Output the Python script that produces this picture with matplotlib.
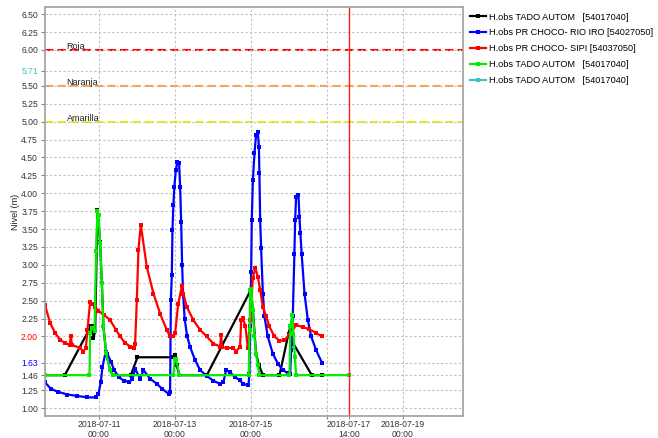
import pandas as pd
import matplotlib.pyplot as plt
import matplotlib.transforms as mtransforms

plt.rcParams["font.family"] = ["Liberation Sans", "DejaVu Sans"]

# series (times in 2018)
black_t = ["07-09 14:00", "07-10 02:30", "07-10 18:54", "07-10 20:00", "07-10 20:36", "07-10 21:42",
           "07-10 23:06", "07-11 00:48", "07-11 01:54", "07-11 02:54", "07-11 04:36", "07-11 07:06",
           "07-11 08:48", "07-11 20:12", "07-12 00:24", "07-12 23:06", "07-13 00:12", "07-13 01:06",
           "07-13 02:54", "07-13 20:12", "07-15 00:00", "07-15 01:18", "07-15 03:18", "07-15 05:06",
           "07-15 07:36", "07-15 18:06", "07-15 23:48", "07-16 01:00", "07-16 02:54", "07-16 14:30",
           "07-16 21:00"]
black_v = [1.46, 1.46, 2.14, 2.14, 1.98, 2.08, 3.76, 3.32, 2.75, 2.14, 1.77, 1.53, 1.46, 1.46, 1.71,
           1.71, 1.74, 1.60, 1.46, 1.46, 2.65, 2.37, 1.76, 1.60, 1.46, 1.46, 2.04, 2.14, 1.90, 1.46, 1.46]

blue_t = ["07-09 14:00", "07-09 17:42", "07-09 21:54", "07-10 04:12", "07-10 10:30", "07-10 16:48",
          "07-10 22:06", "07-10 23:45", "07-11 01:18", "07-11 02:18", "07-11 04:24", "07-11 05:24",
          "07-11 07:36", "07-11 09:42", "07-11 12:48", "07-11 16:00", "07-11 19:06", "07-11 21:12",
          "07-11 22:54", "07-12 02:06", "07-12 04:12", "07-12 08:24", "07-12 12:36", "07-12 16:00",
          "07-12 20:00", "07-12 21:00", "07-12 21:30", "07-12 22:06", "07-12 22:30", "07-12 23:06",
          "07-12 23:42", "07-13 00:36", "07-13 01:36", "07-13 02:42", "07-13 03:21", "07-13 04:00",
          "07-13 04:36", "07-13 05:12", "07-13 06:12", "07-13 07:48", "07-13 09:42", "07-13 12:48",
          "07-13 16:00", "07-13 20:12", "07-14 00:24", "07-14 04:36", "07-14 06:42", "07-14 08:24",
          "07-14 10:54", "07-14 14:06", "07-14 17:12", "07-14 18:54", "07-14 22:30", "07-14 23:06",
          "07-14 23:36", "07-15 00:12", "07-15 00:36", "07-15 01:18", "07-15 02:18", "07-15 03:18",
          "07-15 04:24", "07-15 05:06", "07-15 05:24", "07-15 05:54", "07-15 06:30", "07-15 07:36",
          "07-15 08:36", "07-15 10:42", "07-15 13:54", "07-15 17:06", "07-15 20:12", "07-15 23:24",
          "07-16 00:48", "07-16 01:30", "07-16 02:30", "07-16 03:30", "07-16 04:00", "07-16 04:36",
          "07-16 06:06", "07-16 06:42", "07-16 07:18", "07-16 08:06", "07-16 09:54", "07-16 12:00",
          "07-16 14:06", "07-16 17:12", "07-16 21:00"]
blue_v = [1.36, 1.27, 1.23, 1.19, 1.17, 1.15, 1.15, 1.20, 1.37, 1.58,
          1.79, 1.76, 1.65, 1.53, 1.43, 1.38, 1.37, 1.40, 1.55, 1.41,
          1.53, 1.41, 1.34, 1.27, 1.20, 1.22, 2.51, 2.86, 3.49, 3.84,
          4.09, 4.32, 4.43, 4.42, 4.09, 3.60, 3.00, 2.60, 2.25, 2.00,
          1.85, 1.67, 1.53, 1.45, 1.38, 1.34, 1.37, 1.53, 1.50, 1.43,
          1.39, 1.34, 1.32, 1.48, 2.14, 2.90, 3.63, 4.18, 4.56, 4.81,
          4.86, 4.65, 4.28, 3.63, 3.23, 2.60, 2.28, 2.00, 1.76, 1.62,
          1.53, 1.49, 1.47, 1.81, 2.28, 3.15, 3.63, 3.95, 3.97, 3.67,
          3.44, 3.15, 2.60, 2.23, 2.00, 1.81, 1.63]

red_t = ["07-09 14:00", "07-09 17:12", "07-09 20:24", "07-09 23:36", "07-10 02:42", "07-10 05:36",
         "07-10 06:18", "07-10 07:06", "07-10 12:12", "07-10 14:06", "07-10 15:48", "07-10 16:48",
         "07-10 18:30", "07-10 19:30", "07-10 21:42", "07-10 23:36", "07-11 03:18", "07-11 07:06",
         "07-11 10:54", "07-11 13:30", "07-11 16:36", "07-11 19:48", "07-11 22:18", "07-11 22:54",
         "07-12 00:00", "07-12 01:00", "07-12 02:30", "07-12 06:18", "07-12 10:30", "07-12 14:42",
         "07-12 18:54", "07-12 21:00", "07-12 23:06", "07-13 00:12", "07-13 02:06", "07-13 04:24",
         "07-13 05:24", "07-13 07:36", "07-13 11:42", "07-13 16:00", "07-13 20:12", "07-14 00:24",
         "07-14 04:36", "07-14 05:12", "07-14 05:54", "07-14 08:48", "07-14 13:00", "07-14 14:42",
         "07-14 17:12", "07-14 17:54", "07-14 18:54", "07-14 20:36", "07-14 22:06", "07-14 23:36",
         "07-15 01:18", "07-15 02:54", "07-15 04:24", "07-15 05:54", "07-15 07:36", "07-15 09:42",
         "07-15 11:42", "07-15 14:54", "07-15 18:06", "07-15 21:12", "07-16 00:24", "07-16 04:36",
         "07-16 08:48", "07-16 13:00", "07-16 17:12", "07-16 21:00"]
red_v = [2.44, 2.19, 2.05, 1.95, 1.91, 1.88, 2.00, 1.88, 1.84, 1.79,
         1.84, 2.09, 2.48, 2.46, 2.41, 2.36, 2.30, 2.23, 2.09, 2.00,
         1.91, 1.86, 1.84, 1.90, 2.51, 3.21, 3.56, 2.97, 2.60, 2.32,
         2.09, 2.00, 2.00, 2.05, 2.45, 2.70, 2.60, 2.41, 2.23, 2.09,
         2.00, 1.90, 1.86, 2.02, 1.85, 1.84, 1.84, 1.79, 1.86, 2.23,
         2.26, 2.14, 1.84, 2.23, 2.82, 2.96, 2.83, 2.65, 2.41, 2.28,
         2.14, 2.00, 1.94, 1.95, 2.02, 2.16, 2.13, 2.10, 2.05, 2.00]

green_t = ["07-09 14:00", "07-10 18:06", "07-10 18:30", "07-10 19:48", "07-10 21:18", "07-10 22:18",
           "07-10 23:06", "07-10 23:54", "07-11 00:48", "07-11 01:54", "07-11 02:54", "07-11 04:36",
           "07-11 07:06", "07-11 08:48", "07-12 23:06", "07-12 23:54", "07-13 00:48", "07-13 02:54",
           "07-14 22:42", "07-14 23:12", "07-14 23:36", "07-15 00:12", "07-15 01:18", "07-15 02:18",
           "07-15 03:18", "07-15 04:24", "07-15 05:24", "07-16 00:24", "07-16 01:00", "07-16 02:06",
           "07-16 02:54", "07-16 03:48", "07-16 04:36", "07-17 14:00"]
green_v = [1.46, 1.46, 2.05, 2.12, 2.08, 3.20, 3.75, 3.70, 3.30, 2.75,
           2.14, 1.77, 1.53, 1.46, 1.46, 1.69, 1.69, 1.46, 1.46, 2.09,
           2.65, 2.67, 2.37, 2.00, 1.76, 1.60, 1.46, 1.46, 2.14, 2.30,
           2.04, 1.72, 1.46, 1.46]

cyan_t = []
cyan_v = []

labels = ["H.obs TADO AUTOM   [54017040]",
          "H.obs PR CHOCO- RIO IRO [54027050]",
          "H.obs PR CHOCO- SIPI [54037050]",
          "H.obs TADO AUTOM   [54017040]",
          "H.obs TADO AUTOM   [54017040]"]
colors = ["#000000", "#0000ff", "#ff0000", "#00ee00", "#40c0c0"]

thresholds = [6.00, 5.50, 5.00]
threshold_names = ["Roja", "Naranja", "Amarilla"]
threshold_colors = ["#ff0000", "#ffa030", "#f0f000"]

yticks = [1.00, 1.25, 1.46, 1.63, 2.00, 2.25, 2.50, 2.75, 3.00, 3.25, 3.50, 3.75, 4.00,
          4.25, 4.50, 4.75, 5.00, 5.25, 5.50, 5.71, 6.00, 6.25, 6.50]
ytick_colors = {1.63: "#0000ff", 2.00: "#ff0000", 5.71: "#40c0c0"}
xticks = ["07-11 00:00", "07-13 00:00", "07-15 00:00", "07-17 00:00", "07-17 14:00", "07-19 00:00"]
now = "07-17 14:00"
xlim = ["07-09 14:00", "07-20 14:00"]


def to_dt(lst):
    return pd.to_datetime(["2018-" + s for s in lst])


fig = plt.figure(figsize=(6.58, 4.38), dpi=100)
ax = fig.add_axes([45 / 658, 1 - 416 / 438, 418 / 658, 409 / 438])

series = [(black_t, black_v), (blue_t, blue_v), (red_t, red_v), (green_t, green_v), (cyan_t, cyan_v)]
for (t, v), c, lab in zip(series, colors, labels):
    ax.plot(to_dt(t), v, color=c, lw=1.6, marker="s", ms=2.6, mew=0, label=lab)

trans = mtransforms.blended_transform_factory(ax.transAxes, ax.transData)
for val, name, c in zip(thresholds, threshold_names, threshold_colors):
    ax.axhline(val, color=c, lw=1.5, ls=(0, (4, 2)), zorder=1)
    ax.text(0.052, val + 0.015, name, transform=trans, fontsize=6.5, color="#202020", va="baseline")

ax.axvline(to_dt([now])[0], color="#ff2020", lw=1.0)

ax.set_xlim(to_dt(xlim))
ax.set_ylim(0.89, 6.60)

ax.set_yticks(yticks)
ax.set_yticklabels([f"{v:.2f}" for v in yticks], fontsize=6.2)
for lbl, v in zip(ax.get_yticklabels(), yticks):
    lbl.set_color(ytick_colors.get(v, "#333333"))

xt = to_dt(xticks)
ax.set_xticks(xt)
ax.set_xticklabels(["" if s == "07-17 00:00" else "2018-" + s.replace(" ", "\n") for s in xticks],
                   fontsize=6.2, color="#333333", linespacing=1.05)

ax.tick_params(axis="y", length=3, width=0.8, color="#808080", pad=2)
ax.tick_params(axis="x", length=2, width=0.8, color="#808080", pad=1)
ax.grid(True, ls=(0, (2, 2)), color="#c0c0c0", lw=0.8)
for sp in ax.spines.values():
    sp.set_color("#a0a0a0")
    sp.set_linewidth(1.2)

ax.set_ylabel("Nivel (m)", fontsize=6.5, color="#202020", labelpad=1)

fig.legend(loc="upper left", bbox_to_anchor=(0.705, 0.986), frameon=False, fontsize=6.6,
           handlelength=1.7, handletextpad=0.3, labelspacing=0.75, borderaxespad=0.3)

plt.savefig("out.png", dpi=100)
